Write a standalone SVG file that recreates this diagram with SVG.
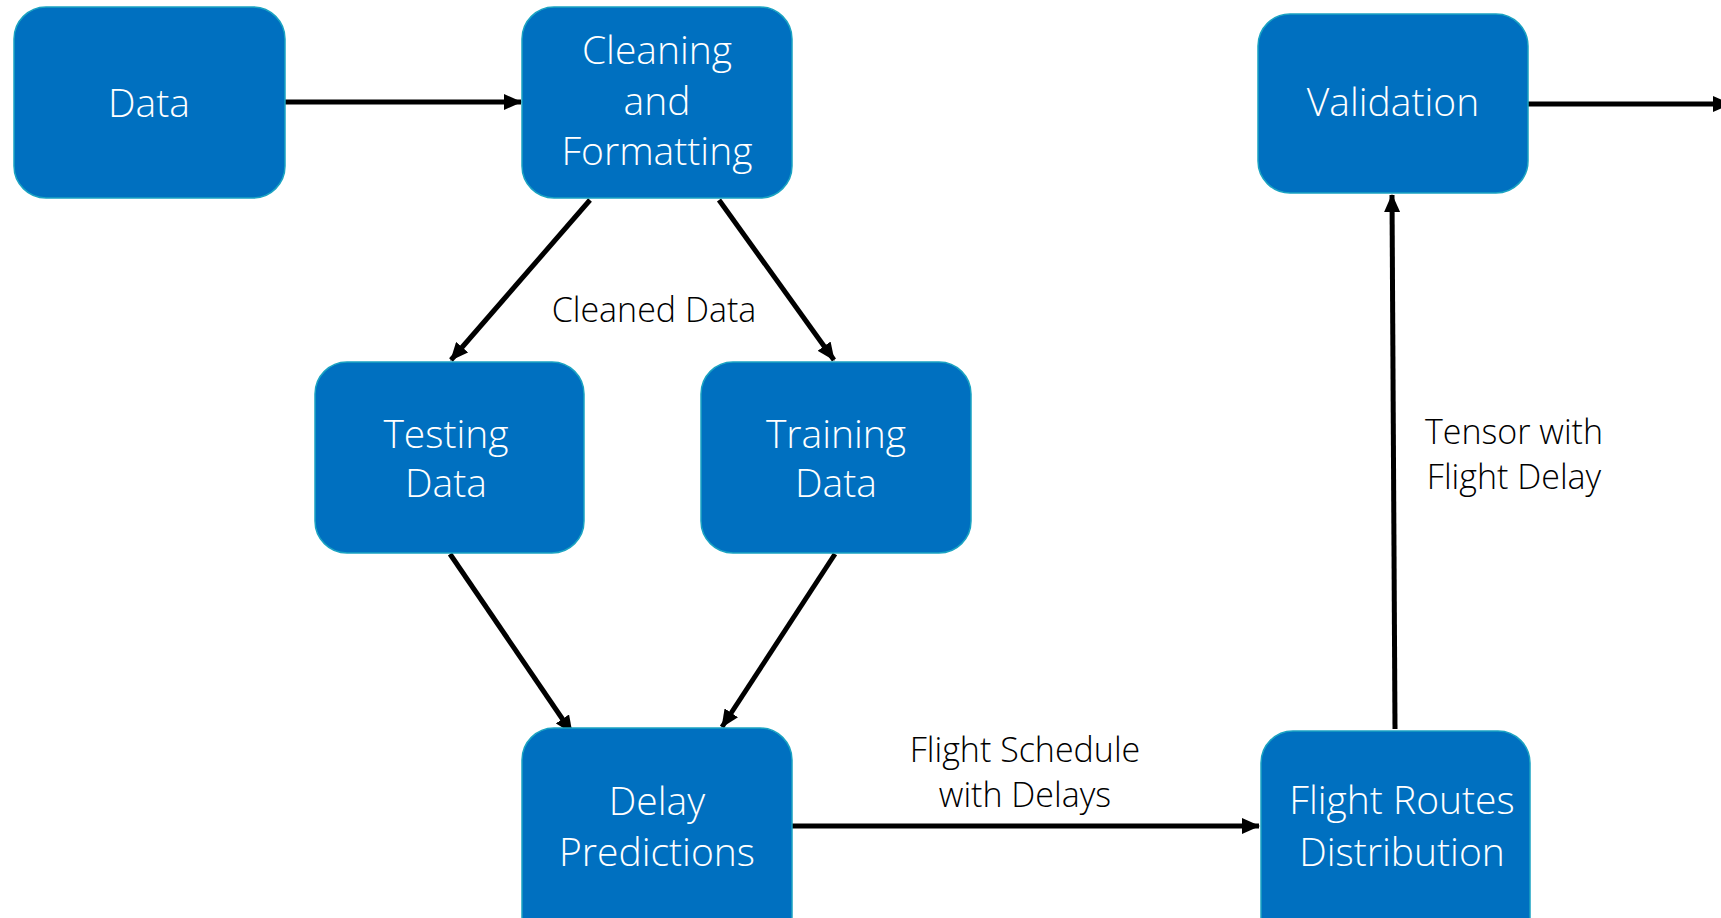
<svg xmlns="http://www.w3.org/2000/svg" width="1721" height="918" viewBox="0 0 1721 918">
<style>
.box{fill:#0070C0;stroke:#1AA3C2;stroke-width:1.5}
.nt{font-family:"Open Sans","Liberation Sans",sans-serif;font-weight:300;font-size:39px;fill:#FFFFFF;text-anchor:middle}
.lb{font-family:"Open Sans","Liberation Sans",sans-serif;font-weight:300;font-size:34px;fill:#000000;text-anchor:middle}
.edge{stroke:#000000;stroke-width:5;fill:none;marker-end:url(#ah)}
</style>
<defs>
<marker id="ah" markerUnits="userSpaceOnUse" markerWidth="18" markerHeight="16" refX="17" refY="8" orient="auto">
<path d="M0,0 L18,8 L0,16 Z" fill="#000000"/>
</marker>
</defs>
<rect width="1721" height="918" fill="#FFFFFF"/>
<g id="connectors">
<line class="edge" x1="285" y1="102" x2="521" y2="102"/>
<line class="edge" x1="590" y1="200" x2="451" y2="360"/>
<line class="edge" x1="719" y1="200" x2="834" y2="360"/>
<line class="edge" x1="450" y1="554" x2="572" y2="733"/>
<line class="edge" x1="835" y1="554" x2="722" y2="727"/>
<line class="edge" x1="792" y1="826" x2="1259" y2="826"/>
<line class="edge" x1="1395" y1="729" x2="1392" y2="195"/>
<line class="edge" x1="1528" y1="104" x2="1730" y2="104"/>
<text class="lb" x="654" y="322">Cleaned Data</text>
<text class="lb" x="1025" y="762">Flight Schedule</text>
<text class="lb" x="1025" y="807">with Delays</text>
<text class="lb" x="1514" y="444">Tensor with</text>
<text class="lb" x="1514" y="489">Flight Delay</text>
</g>
<g id="data">
<rect class="box" x="14" y="7" width="271" height="191" rx="32"/>
<text class="nt" x="149" y="117">Data</text>
</g>
<g id="cleaning">
<rect class="box" x="522" y="7" width="270" height="191" rx="32"/>
<text class="nt" x="657" y="64">Cleaning</text>
<text class="nt" x="657" y="115">and</text>
<text class="nt" x="657" y="165">Formatting</text>
</g>
<g id="validation">
<rect class="box" x="1258" y="14" width="270" height="179" rx="32"/>
<text class="nt" x="1393" y="116">Validation</text>
</g>
<g id="testing">
<rect class="box" x="315" y="362" width="269" height="191" rx="32"/>
<text class="nt" x="446" y="448">Testing</text>
<text class="nt" x="446" y="497">Data</text>
</g>
<g id="training">
<rect class="box" x="701" y="362" width="270" height="191" rx="32"/>
<text class="nt" x="836" y="448">Training</text>
<text class="nt" x="836" y="497">Data</text>
</g>
<g id="delay">
<rect class="box" x="522" y="728" width="270" height="220" rx="32"/>
<text class="nt" x="657" y="815">Delay</text>
<text class="nt" x="657" y="866">Predictions</text>
</g>
<g id="routes">
<rect class="box" x="1261" y="731" width="269" height="220" rx="32"/>
<text class="nt" x="1402" y="814">Flight Routes</text>
<text class="nt" x="1402" y="866">Distribution</text>
</g>
</svg>
